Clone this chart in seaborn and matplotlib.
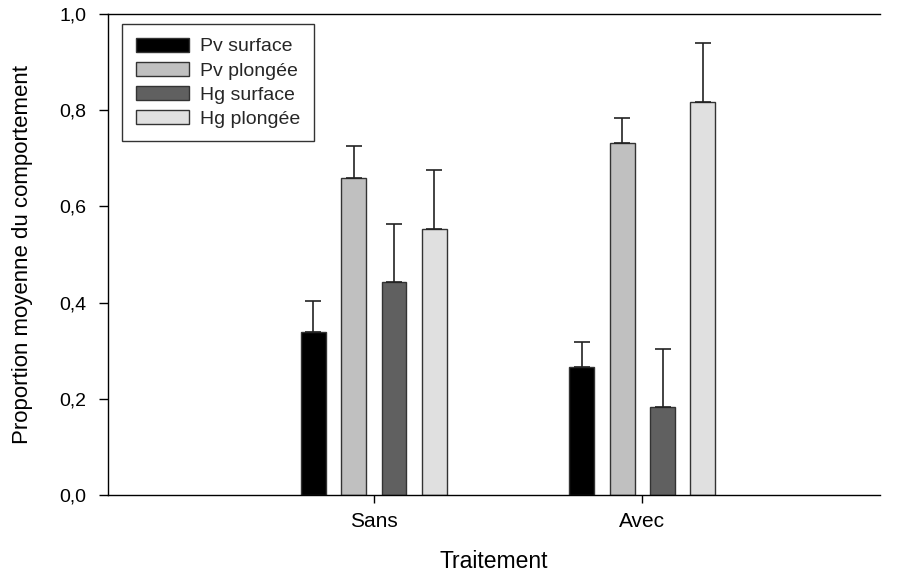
import numpy as np
import pandas as pd
import matplotlib
matplotlib.use("Agg")
import matplotlib.pyplot as plt
import seaborn as sns

# --- données ---
traitements = ["Sans", "Avec"]
groupes = ["Pv surface", "Pv plongée", "Hg surface", "Hg plongée"]
moy_sans = [0.338, 0.660, 0.443, 0.554]
moy_avec = [0.267, 0.732, 0.182, 0.818]
err_sans = [0.066, 0.066, 0.121, 0.122]
err_avec = [0.052, 0.052, 0.122, 0.122]
couleurs = ["#000000", "#c0c0c0", "#606060", "#e0e0e0"]

df = pd.DataFrame({
    "Traitement": np.repeat(traitements, len(groupes)),
    "Groupe": groupes * 2,
    "Proportion": moy_sans + moy_avec,
    "Erreur": err_sans + err_avec,
})

sns.set_theme(style="ticks")
plt.rcParams["font.family"] = ["Liberation Sans", "DejaVu Sans"]

fig = plt.figure(figsize=(9.01, 5.73), dpi=100)
ax = fig.add_axes([0.1199, 0.1361, 0.8568, 0.8395])

sns.barplot(data=df, x="Traitement", y="Proportion", hue="Groupe",
            hue_order=groupes, palette=couleurs, width=0.6, gap=0.38,
            edgecolor="#333333", linewidth=1, errorbar=None, ax=ax)

# barres d'erreur (vers le haut seulement)
for cont, g in zip(ax.containers, groupes):
    sub = df[df["Groupe"] == g].set_index("Traitement").loc[traitements]
    xs = [b.get_x() + b.get_width() / 2 for b in cont]
    hs = [b.get_height() for b in cont]
    ax.errorbar(xs, hs, yerr=[np.zeros(len(hs)), sub["Erreur"].values],
                fmt="none", ecolor="#222222", elinewidth=1.2, capsize=6,
                capthick=1.2, zorder=1)

ax.set_xlim(-0.99, 1.885)
ax.set_ylim(0, 1.0)
ax.set_yticks(np.arange(0, 1.01, 0.2))
ax.set_yticklabels([f"{v:.1f}".replace(".", ",") for v in np.arange(0, 1.01, 0.2)])
ax.tick_params(axis="y", labelsize=14, direction="out", length=6.5, pad=9,
               width=1, color="black", labelcolor="black")
ax.tick_params(axis="x", labelsize=15, direction="out", length=6, pad=6,
               width=1, color="black", labelcolor="black")
ax.set_xlabel("Traitement", fontsize=16.5, labelpad=14, color="black")
ax.set_ylabel("Proportion moyenne du comportement", fontsize=16, labelpad=19,
              color="black")

for s in ["left", "bottom", "top"]:
    ax.spines[s].set_color("black")
    ax.spines[s].set_linewidth(1)
ax.spines["right"].set_visible(False)

h, l = ax.get_legend_handles_labels()
leg = ax.legend(h, l, loc="upper left", bbox_to_anchor=(0.018, 0.979),
                borderaxespad=0, fontsize=14, handlelength=2.73,
                handleheight=0.72, labelspacing=0.33, handletextpad=0.57,
                borderpad=0.7, frameon=True, fancybox=False, edgecolor="black")
leg.get_frame().set_linewidth(1)

fig.savefig("out.png", dpi=100)
